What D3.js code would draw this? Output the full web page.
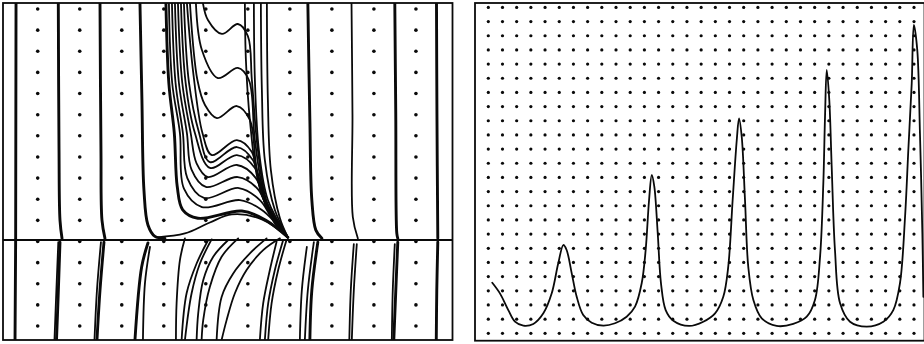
<!DOCTYPE html>
<html>
<head>
<meta charset="utf-8">
<script src="https://cdn.jsdelivr.net/npm/d3@7"></script>
<style>
  html, body { margin: 0; padding: 0; background: #fff; }
  svg { display: block; }
</style>
</head>
<body>
<svg id="chart" width="924" height="344"></svg>
<script>
// ---- left panel: phase portrait (grid units: dot columns 1..10, dot rows 0..15 from top)
const leftDotCols = [1, 2, 3, 4, 5, 6, 7, 8, 9, 10];
const leftDotRows = [0, 1, 2, 3, 4, 5, 6, 7, 8, 9, 10, 11, 12, 13, 14, 15];
const separatrixRow = 10.93;
const focus = [6.952, 10.80];

// trajectories drawn heavy
const heavyUpper = [
  [[0.484, -0.28], [0.475, 10.93]],
  [[1.49, -0.28], [1.507, 6.67], [1.53, 9.99], [1.578, 10.85]],
  [[2.482, -0.28], [2.505, 6.67], [2.529, 9.99], [2.60, 10.85]],
  [[3.433, -0.28], [3.48, 4.31], [3.528, 8.57], [3.623, 10.22], [3.789, 10.76], [4.027, 10.85]],
  [[4.051, -0.28], [4.12, 3.5], [4.25, 5.87], [4.32, 8.4], [4.45, 9.5], [4.812, 9.9], [5.858, 9.56], [6.429, 9.99], focus],
  [[7.428, -0.28], [7.476, 5.25], [7.523, 9.04], [7.618, 10.46], [7.761, 10.85]],
  [[9.497, -0.28], [9.52, 5], [9.545, 10.62], [9.568, 10.85]],
  [[10.489, -0.28], [10.50, 5], [10.52, 10.85]]
];
const heavyLower = [
  [[0.475, 10.93], [0.46, 15.66]],
  [[1.53, 11.03], [1.483, 13.77], [1.447, 15.66]],
  [[2.577, 11.03], [2.482, 13.30], [2.41, 15.66]],
  [[3.623, 11.07], [3.473, 12.21], [3.314, 15.66]],
  [[7.666, 11.03], [7.523, 13.30], [7.476, 15.66]],
  [[9.568, 11.03], [9.521, 13.30], [9.473, 15.66]],
  [[10.52, 11.03], [10.496, 13.30], [10.484, 15.66]]
];

// the wavy fan that falls into the focus
const fanLines = [
  [[4.931, -0.28], [5.05, 0.52], [5.383, 1.18], [5.763, 0.71], [6.001, 1.28], [6.096, 3.36], [6.239, 6.67], [6.477, 9.28], focus],
  [[4.764, -0.28], [4.907, 1.94], [5.288, 3.27], [5.763, 2.79], [6.025, 3.36], [6.168, 6.20], [6.429, 9.04], focus],
  [[4.622, -0.28], [4.80, 3.36], [4.98, 4.54], [5.264, 5.16], [5.739, 4.59], [6.049, 5.25], [6.215, 7.62], [6.524, 9.61], focus],
  [[4.55, -0.28], [4.70, 3.0], [4.92, 5.87], [5.145, 6.91], [5.739, 6.20], [6.096, 6.77], [6.334, 8.80], focus],
  [[4.479, -0.28], [4.60, 3.5], [4.84, 5.87], [5.097, 7.24], [5.739, 6.53], [6.12, 7.15], [6.382, 9.04], focus],
  [[4.408, -0.28], [4.52, 3.5], [4.74, 5.87], [5.097, 7.52], [5.739, 6.91], [6.168, 7.52], [6.429, 9.28], focus],
  [[4.337, -0.28], [4.44, 3.5], [4.64, 5.87], [4.78, 7.3], [5.05, 7.95], [5.739, 7.38], [6.191, 8.00], [6.477, 9.51], focus],
  [[4.265, -0.28], [4.36, 3.5], [4.55, 5.87], [4.66, 7.6], [5.002, 8.42], [5.763, 7.95], [6.239, 8.52], [6.524, 9.70], focus],
  [[4.194, -0.28], [4.28, 3.5], [4.455, 5.87], [4.56, 8.0], [4.955, 8.94], [5.787, 8.47], [6.286, 9.04], [6.572, 9.89], focus],
  [[4.122, -0.28], [4.20, 3.5], [4.384, 5.87], [4.48, 8.5], [4.907, 9.37], [5.811, 9.04], [6.334, 9.51], focus],
  [[3.837, 10.80], [4.503, 10.62], [5.097, 10.10], [5.62, 9.72], [6.334, 9.95], focus],
  [[5.93, -0.28], [5.954, 2.41], [6.049, 5.25], [6.239, 8.09], [6.62, 10.08], focus],
  [[6.144, -0.28], [6.168, 3.36], [6.263, 6.67], [6.477, 9.04], focus],
  [[6.31, -0.28], [6.334, 3.83], [6.405, 7.15], [6.643, 9.51], focus],
  [[6.453, -0.28], [6.477, 4.31], [6.548, 7.62], [6.762, 9.89], focus],
  [[8.467, -0.28], [8.49, 5], [8.498, 9.84], [8.617, 10.85]]
];

// thin trajectories below the separatrix
const lowerLines = [
  [[1.49, 11.03], [1.435, 13.77], [1.399, 15.66]],
  [[2.505, 11.03], [2.41, 13.30], [2.351, 15.66]],
  [[3.671, 11.26], [3.552, 12.97], [3.504, 15.66]],
  [[4.503, 10.85], [4.384, 11.88], [4.305, 13.91], [4.289, 15.66]],
  [[5.057, 10.93], [4.781, 12.04], [4.543, 13.45], [4.424, 15.66]],
  [[5.138, 10.9], [4.86, 12.04], [4.662, 13.45], [4.503, 15.66]],
  [[5.533, 10.93], [5.176, 11.72], [4.938, 12.83], [4.819, 14.40], [4.781, 15.66]],
  [[5.77, 10.85], [5.376, 11.72], [5.097, 13.14], [4.938, 14.72], [4.9, 15.66]],
  [[6.446, 10.85], [6.049, 11.56], [5.652, 12.51], [5.376, 13.62], [5.257, 15.66]],
  [[6.762, 10.85], [6.365, 11.41], [5.97, 12.35], [5.692, 13.45], [5.495, 14.72], [5.376, 15.66]],
  [[6.684, 11.01], [6.524, 12.35], [6.365, 13.93], [6.286, 15.66]],
  [[6.841, 10.93], [6.643, 12.35], [6.484, 13.93], [6.405, 15.66]],
  [[6.92, 10.93], [6.722, 12.35], [6.565, 13.93], [6.484, 15.66]],
  [[7.571, 11.03], [7.428, 13.30], [7.357, 15.66]],
  [[7.404, 11.26], [7.285, 13.30], [7.238, 15.66]],
  [[8.593, 11.12], [8.522, 13.30], [8.474, 15.66]],
  [[8.522, 11.12], [8.45, 13.30], [8.415, 15.66]],
  [[9.497, 11.12], [9.449, 13.30], [9.426, 15.66]]
];

// ---- right panel: time series (grid units: dot columns 0..30, dot rows 0..23 from bottom)
const rightDotCols = d3.range(0, 31);
const rightDotRows = d3.range(0, 24);
const signal = [
  [0.28, 3.57], [0.82, 2.82], [1.41, 1.64], [1.88, 0.82], [2.47, 0.54], [3.17, 0.66],
  [3.88, 1.41], [4.47, 2.82], [4.93, 4.94], [5.29, 6.23], [5.52, 5.88], [5.88, 4.23],
  [6.23, 2.58], [6.69, 1.29], [7.29, 0.75], [8.10, 0.54], [8.93, 0.71], [9.75, 1.17],
  [10.34, 1.88], [10.81, 3.53], [11.09, 5.88], [11.33, 9.41], [11.52, 11.17], [11.70, 10.35],
  [11.94, 7.06], [12.17, 3.53], [12.50, 1.64], [13.04, 0.89], [14.15, 0.52], [15.15, 0.82],
  [15.98, 1.41], [16.56, 2.58], [16.91, 4.70], [17.22, 9.41], [17.51, 13.64], [17.67, 15.17],
  [17.86, 13.87], [18.09, 9.41], [18.32, 4.70], [18.68, 2.35], [19.27, 1.06], [20.32, 0.52],
  [21.49, 0.66], [22.44, 1.17], [23.02, 2.35], [23.38, 5.41], [23.61, 10.59], [23.73, 15.29],
  [23.85, 18.58], [24.03, 16.46], [24.20, 11.76], [24.43, 5.88], [24.79, 2.12], [25.49, 0.82],
  [26.67, 0.47], [27.84, 0.82], [28.54, 1.64], [29.01, 3.53], [29.37, 8.23], [29.60, 12.94],
  [29.84, 17.64], [29.99, 21.76], [30.23, 20.0], [30.42, 14.1], [30.59, 7.05], [30.66, 2.58]
];

const svg = d3.select('#chart');
const ink = '#0a0a0a';

const leftBox = { left: 3, right: 452.5, top: 3, bottom: 340 };
const rightBox = { left: 475, right: 924.5, top: 3, bottom: 340.7 };

const xL = d3.scaleLinear().domain([0.174, 10.87]).range([leftBox.left, leftBox.right]);
const yL = d3.scaleLinear().domain([-0.284, 15.66]).range([leftBox.top, leftBox.bottom]);
const xR = d3.scaleLinear().domain([-0.937, 30.74]).range([rightBox.left, rightBox.right]);
const yR = d3.scaleLinear().domain([-0.522, 23.31]).range([rightBox.bottom, rightBox.top]);

const defs = svg.append('defs');
[['clipL', leftBox], ['clipR', rightBox]].forEach(([id, b]) => {
  defs.append('clipPath').attr('id', id)
    .append('rect')
    .attr('x', b.left).attr('y', b.top)
    .attr('width', b.right - b.left).attr('height', b.bottom - b.top);
});

// ---- left panel
const gL = svg.append('g').attr('clip-path', 'url(#clipL)');

gL.append('g').selectAll('circle')
  .data(d3.cross(leftDotCols, leftDotRows))
  .enter().append('circle')
  .attr('cx', d => xL(d[0]))
  .attr('cy', d => yL(d[1]))
  .attr('r', 1.8)
  .attr('fill', ink);

gL.append('line')
  .attr('x1', xL.range()[0]).attr('x2', xL.range()[1])
  .attr('y1', yL(separatrixRow)).attr('y2', yL(separatrixRow))
  .attr('stroke', ink).attr('stroke-width', 1.8);

const lineL = d3.line()
  .x(d => xL(d[0]))
  .y(d => yL(d[1]))
  .curve(d3.curveCatmullRom.alpha(0.5));

function drawPaths(g, data, gen, width) {
  g.append('g').selectAll('path')
    .data(data)
    .enter().append('path')
    .attr('d', gen)
    .attr('fill', 'none')
    .attr('stroke', ink)
    .attr('stroke-width', width)
    .attr('stroke-linecap', 'round')
    .attr('stroke-linejoin', 'round');
}

drawPaths(gL, fanLines, lineL, 1.8);
drawPaths(gL, lowerLines, lineL, 1.8);
drawPaths(gL, heavyUpper, lineL, 2.9);
drawPaths(gL, heavyLower, lineL, 2.9);

svg.append('rect')
  .attr('x', leftBox.left).attr('y', leftBox.top)
  .attr('width', leftBox.right - leftBox.left)
  .attr('height', leftBox.bottom - leftBox.top)
  .attr('fill', 'none').attr('stroke', ink).attr('stroke-width', 1.8);

// ---- right panel
const gR = svg.append('g').attr('clip-path', 'url(#clipR)');

gR.append('g').selectAll('circle')
  .data(d3.cross(rightDotCols, rightDotRows))
  .enter().append('circle')
  .attr('cx', d => xR(d[0]))
  .attr('cy', d => yR(d[1]))
  .attr('r', 1.6)
  .attr('fill', ink);

const lineR = d3.line()
  .x(d => xR(d[0]))
  .y(d => yR(d[1]))
  .curve(d3.curveCatmullRom.alpha(0.5));

drawPaths(gR, [signal], lineR, 1.8);

svg.append('rect')
  .attr('x', rightBox.left).attr('y', rightBox.top)
  .attr('width', rightBox.right - rightBox.left)
  .attr('height', rightBox.bottom - rightBox.top)
  .attr('fill', 'none').attr('stroke', ink).attr('stroke-width', 1.8);
</script>
</body>
</html>
